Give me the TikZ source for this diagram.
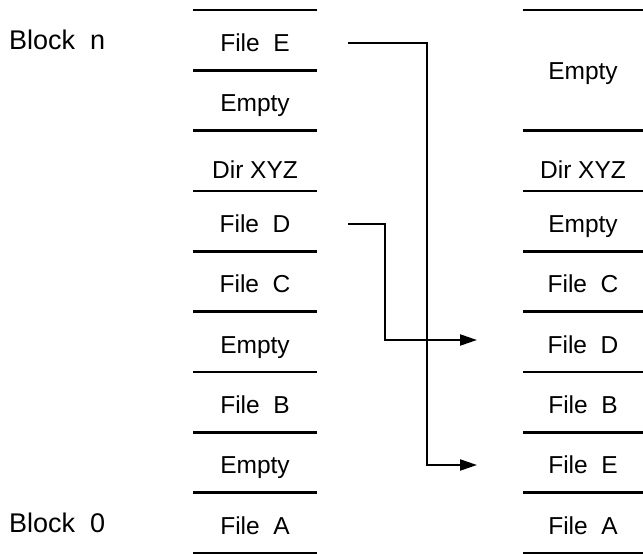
\documentclass[tikz,border=0pt]{standalone}
\usepackage{fontspec}
\setmainfont{Liberation Sans}
\usetikzlibrary{arrows.meta}
\begin{document}
\begin{tikzpicture}[x=1pt,y=-1pt,
  rule/.style={line width=2.8pt},
  cell/.style={anchor=base, inner sep=0pt, font=\fontsize{24.5}{29}\selectfont},
  lbl/.style={anchor=base west, inner sep=0pt, font=\fontsize{27}{32}\selectfont},
  conn/.style={line width=2.2pt, -{Triangle[length=17pt,width=11pt]}}]
\useasboundingbox (0,0) rectangle (643,554);
% left column rules
\foreach \y in {10,70.33,130.67,191,251.33,311.67,372,432.33,492.67,553}
  \draw[rule] (193,\y) -- (317,\y);
% right column rules
\foreach \y in {10,130.67,191,251.33,311.67,372,432.33,492.67,553}
  \draw[rule] (523,\y) -- (647,\y);
% labels
\node[lbl] (bn) at (9,49.5) {Block\ \ n};
\node[lbl] (b0) at (9,532) {Block\ \ 0};
% left cells
\node[cell] (lE)  at (255,51.5)  {File\ \ E};
\node[cell] (lX1) at (255,111.8) {Empty};
\node[cell] (lDir) at (255,178) {Dir XYZ};
\node[cell] (lD)  at (255,232.5) {File\ \ D};
\node[cell] (lC)  at (255,292.8) {File\ \ C};
\node[cell] (lX2) at (255,353.1) {Empty};
\node[cell] (lB)  at (255,413.5) {File\ \ B};
\node[cell] (lX3) at (255,473.8) {Empty};
\node[cell] (lA)  at (255,534.1) {File\ \ A};
% right cells
\node[cell] (rX1) at (583,79.5)  {Empty};
\node[cell] (rDir) at (583,178) {Dir XYZ};
\node[cell] (rX2) at (583,232.5) {Empty};
\node[cell] (rC)  at (583,292.8) {File\ \ C};
\node[cell] (rD)  at (583,353.1) {File\ \ D};
\node[cell] (rB)  at (583,413.5) {File\ \ B};
\node[cell] (rE)  at (583,473.8) {File\ \ E};
\node[cell] (rA)  at (583,534.1) {File\ \ A};
% connectors
\coordinate (eS) at (348,43);
\coordinate (eBend) at (427,465);
\coordinate (eT) at (477,465);
\coordinate (dS) at (348,224);
\coordinate (dBend) at (385,340);
\coordinate (dT) at (477,340);
\draw[conn] (eS) -| (eBend) -- (eT);
\draw[conn] (dS) -| (dBend) -- (dT);
\end{tikzpicture}
\end{document}
